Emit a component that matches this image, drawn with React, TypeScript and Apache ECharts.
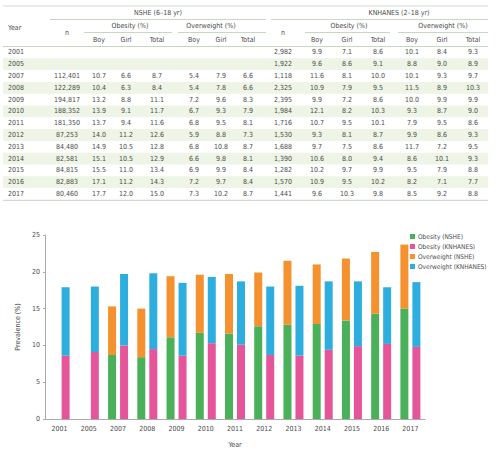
import React, { useEffect, useRef } from "react";
import * as echarts from "echarts";

const years = ["2001", "2005", "2007", "2008", "2009", "2010", "2011", "2012", "2013", "2014", "2015", "2016", "2017"];

const nsheN = [null, null, 112401, 122289, 194817, 188352, 181350, 87253, 84480, 82581, 84815, 82883, 80460];
const nsheObBoy = [null, null, 10.7, 10.4, 13.2, 13.9, 13.7, 14.0, 14.9, 15.1, 15.5, 17.1, 17.7];
const nsheObGirl = [null, null, 6.6, 6.3, 8.8, 9.1, 9.4, 11.2, 10.5, 10.5, 11.0, 11.2, 12.0];
const nsheObTotal = [null, null, 8.7, 8.4, 11.1, 11.7, 11.6, 12.6, 12.8, 12.9, 13.4, 14.3, 15.0];
const nsheOwBoy = [null, null, 5.4, 5.4, 7.2, 6.7, 6.8, 5.9, 6.8, 6.6, 6.9, 7.2, 7.3];
const nsheOwGirl = [null, null, 7.9, 7.8, 9.6, 9.3, 9.5, 8.8, 10.8, 9.8, 9.9, 9.7, 10.2];
const nsheOwTotal = [null, null, 6.6, 6.6, 8.3, 7.9, 8.1, 7.3, 8.7, 8.1, 8.4, 8.4, 8.7];

const knN = [2982, 1922, 1118, 2325, 2395, 1984, 1716, 1530, 1688, 1390, 1282, 1570, 1441];
const knObBoy = [9.9, 9.6, 11.6, 10.9, 9.9, 12.1, 10.7, 9.3, 9.7, 10.6, 10.2, 10.9, 9.6];
const knObGirl = [7.1, 8.6, 8.1, 7.9, 7.2, 8.2, 9.5, 8.1, 7.5, 8.0, 9.7, 9.5, 10.3];
const knObTotal = [8.6, 9.1, 10.0, 9.5, 8.6, 10.3, 10.1, 8.7, 8.6, 9.4, 9.9, 10.2, 9.8];
const knOwBoy = [10.1, 8.8, 10.1, 11.5, 10.0, 9.3, 7.9, 9.9, 11.7, 8.6, 9.5, 8.2, 8.5];
const knOwGirl = [8.4, 9.0, 9.3, 8.9, 9.9, 8.7, 9.5, 8.6, 7.2, 10.1, 7.9, 7.1, 9.2];
const knOwTotal = [9.3, 8.9, 9.7, 10.3, 9.9, 9.0, 8.6, 9.3, 9.5, 9.3, 8.8, 7.7, 8.8];

const seriesNames = ["Obesity (NSHE)", "Obesity (KNHANES)", "Overweight (NSHE)", "Overweight (KNHANES)"];
const subHeads = ["Boy", "Girl", "Total"];

const FONT = "'Liberation Sans Narrow','DejaVu Sans Condensed','Roboto',sans-serif";
const TXT = "#4a4a4a";
const LINE = "#c9d6c4";
const ROWBG = "#eef5e6";

function txt(text: string, x: number, y: number, align = "center", size = 7) {
  return {
    type: "text",
    x,
    y,
    silent: true,
    z: 10,
    style: {
      text,
      fill: TXT,
      fontSize: size,
      fontFamily: FONT,
      align,
      textAlign: align,
      verticalAlign: "middle",
      textVerticalAlign: "middle",
    },
  };
}
function hline(x1: number, x2: number, y: number, color = LINE, w = 1) {
  return { type: "line", silent: true, z: 5, shape: { x1, y1: y, x2, y2: y }, style: { stroke: color, lineWidth: w } };
}

function buildTable() {
  const els: any[] = [];
  const left = 3, right = 488;
  const rowTop = 46.5, rowH = 11.8;
  years.forEach((_, i) => {
    if (i % 2 === 1) {
      els.push({ type: "rect", silent: true, z: 1, shape: { x: left, y: rowTop + i * rowH, width: right - left, height: rowH }, style: { fill: ROWBG } });
    }
  });
  els.push(hline(left, right, 6, "#d3dbd0", 1.2));
  els.push(hline(50, 266, 19.5));
  els.push(hline(271, right, 19.5));
  els.push(hline(84, 172, 32.5));
  els.push(hline(178, 266, 32.5));
  els.push(hline(305, 390, 32.5));
  els.push(hline(398, right, 32.5));
  els.push(hline(left, right, 46.5));
  els.push(hline(left, right, rowTop + years.length * rowH + 0.5, "#d3dbd0", 1.2));

  els.push(txt("Year", 8, 28, "left"));
  els.push(txt("NSHE (6–18 yr)", 158, 13));
  els.push(txt("KNHANES (2–18 yr)", 399, 13));
  els.push(txt("n", 67, 33));
  els.push(txt("n", 283, 33));
  els.push(txt("Obesity (%)", 130, 26));
  els.push(txt("Overweight (%)", 211, 26));
  els.push(txt("Obesity (%)", 349, 26));
  els.push(txt("Overweight (%)", 443, 26));
  const cols = [99, 126, 157, 194, 221, 248, 317, 347, 378, 412, 442, 473];
  cols.forEach((c, k) => els.push(txt(subHeads[k % 3], c, 40)));

  const colData = [nsheObBoy, nsheObGirl, nsheObTotal, nsheOwBoy, nsheOwGirl, nsheOwTotal, knObBoy, knObGirl, knObTotal, knOwBoy, knOwGirl, knOwTotal];
  const fmtN = (v: number | null) => (v == null ? "" : v.toLocaleString("en-US"));
  years.forEach((y, i) => {
    const cy = rowTop + i * rowH + rowH / 2;
    els.push(txt(y, 8, cy, "left"));
    if (nsheN[i] != null) els.push(txt(fmtN(nsheN[i]), 67, cy));
    els.push(txt(fmtN(knN[i]), 283, cy));
    colData.forEach((arr, k) => {
      const v = arr[i];
      if (v != null) els.push(txt(v.toFixed(1), cols[k], cy));
    });
  });
  return els;
}

export default function App() {
  const ref = useRef<HTMLDivElement>(null);
  useEffect(() => {
    if (!ref.current) return;
    const chart = echarts.init(ref.current, null, { renderer: "svg" });
    const colors = ["#4bb05a", "#e5559a", "#f5922f", "#2eaede"];
    const bar = (name: string, data: any[], stack: string, color: string) => ({
      name,
      type: "bar",
      stack,
      data,
      barWidth: 8,
      barGap: "50%",
      itemStyle: { color },
    });
    chart.setOption({
      animation: false,
      color: colors,
      textStyle: { fontFamily: FONT },
      grid: { left: 45, right: 74, top: 235, bottom: 32, containLabel: false },
      legend: {
        orient: "vertical",
        left: 410,
        top: 233,
        itemWidth: 5,
        itemHeight: 5,
        itemGap: 3,
        padding: 0,
        icon: "rect",
        textStyle: { fontSize: 6.5, color: TXT, fontFamily: FONT, padding: [0, 0, 0, -2] },
        data: seriesNames,
      },
      xAxis: {
        type: "category",
        data: years,
        name: "Year",
        nameLocation: "middle",
        nameGap: 22,
        nameTextStyle: { fontSize: 7, color: TXT, fontFamily: FONT },
        axisLine: { lineStyle: { color: "#aaaaaa" } },
        axisTick: { show: false },
        axisLabel: { fontSize: 7, color: TXT, margin: 6, fontFamily: FONT },
      },
      yAxis: {
        type: "value",
        min: 0,
        max: 25,
        interval: 5,
        name: "Prevalence (%)",
        nameLocation: "middle",
        nameGap: 20,
        nameTextStyle: { fontSize: 7, color: TXT, fontFamily: FONT },
        axisLine: { show: true, lineStyle: { color: "#aaaaaa" } },
        axisTick: { show: true, length: 2, lineStyle: { color: "#aaaaaa" } },
        splitLine: { show: false },
        axisLabel: { fontSize: 7, color: TXT, margin: 5, fontFamily: FONT },
      },
      series: [
        bar(seriesNames[0], nsheObTotal, "nshe", colors[0]),
        bar(seriesNames[1], knObTotal, "kn", colors[1]),
        bar(seriesNames[2], nsheOwTotal, "nshe", colors[2]),
        bar(seriesNames[3], knOwTotal, "kn", colors[3]),
      ],
      graphic: buildTable(),
    });
    return () => chart.dispose();
  }, []);
  return <div ref={ref} style={{ position: "absolute", left: 0, top: 0, width: 499, height: 451, background: "#ffffff" }} />;
}
